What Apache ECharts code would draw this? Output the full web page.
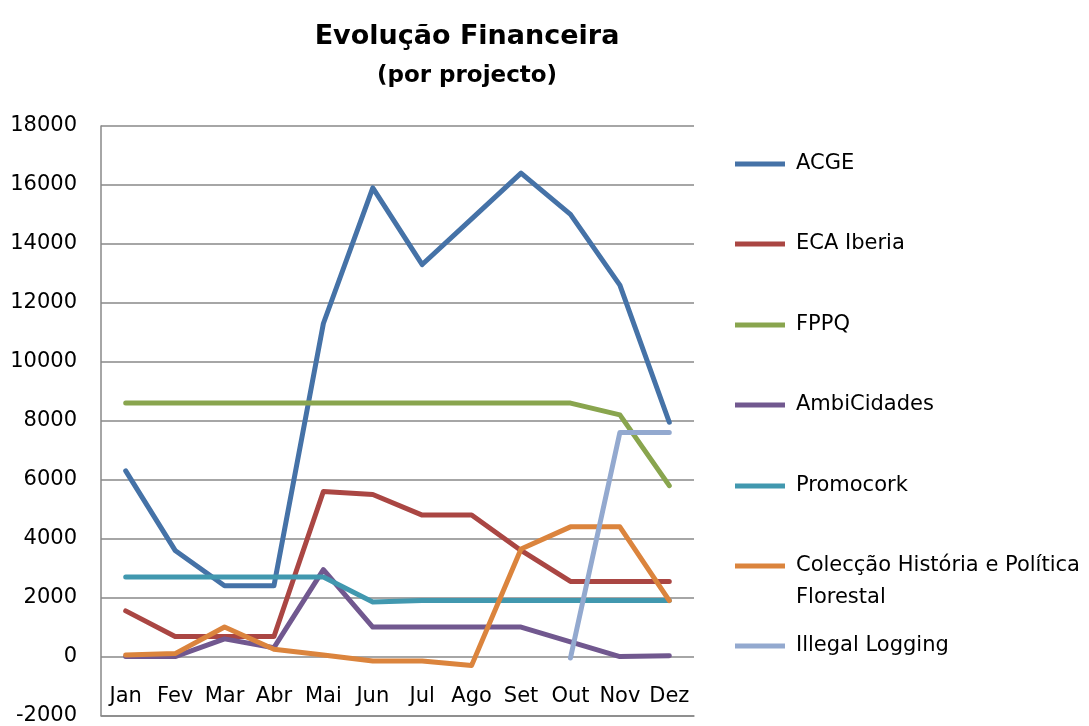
<!DOCTYPE html>
<html lang="pt">
  <head>
    <meta charset="UTF-8" />
    <title>Evolução Financeira</title>
    <script src="https://cdn.jsdelivr.net/npm/echarts@6/dist/echarts.min.js"></script>
    <style>
      html, body { margin: 0; padding: 0; background: #fff; }
      #main { width: 1089px; height: 726px; }
    </style>
  </head>
  <body>
    <div id="main"></div>
    <script>
      const months = ['Jan', 'Fev', 'Mar', 'Abr', 'Mai', 'Jun', 'Jul', 'Ago', 'Set', 'Out', 'Nov', 'Dez'];
      const yTicks = { min: -2000, max: 18000, step: 2000 };

      const acge = [6300, 3600, 2400, 2400, 11300, 15900, 13300, 14850, 16400, 15000, 12600, 7950];
      const ecaIberia = [1550, 680, 680, 680, 5600, 5500, 4800, 4800, 3600, 2550, 2550, 2550];
      const fppq = [8600, 8600, 8600, 8600, 8600, 8600, 8600, 8600, 8600, 8600, 8200, 5800];
      const ambiCidades = [0, 0, 600, 300, 2950, 1000, 1000, 1000, 1000, 500, 0, 30];
      const promocork = [2700, 2700, 2700, 2700, 2700, 1850, 1900, 1900, 1900, 1900, 1900, 1900];
      const coleccao = [50, 100, 1000, 250, 50, -150, -150, -300, 3650, 4400, 4400, 1900];
      const illegalLogging = [null, null, null, null, null, null, null, null, null, -50, 7600, 7600];

      const seriesList = [
        { name: 'ACGE', data: acge, color: '#4572A7' },
        { name: 'ECA Iberia', data: ecaIberia, color: '#AA4643' },
        { name: 'FPPQ', data: fppq, color: '#89A54E' },
        { name: 'AmbiCidades', data: ambiCidades, color: '#71588F' },
        { name: 'Promocork', data: promocork, color: '#4198AF' },
        { name: 'Colecção História e Política Florestal', data: coleccao, color: '#DB843D' },
        { name: 'Illegal Logging', data: illegalLogging, color: '#93A9CF' }
      ];

      // vertical centre of each legend entry (px)
      const legendCentres = [164, 244, 325, 405, 486, 566, 646];

      const font = 'DejaVu Sans';

      const legends = seriesList.map((s, i) => ({
        data: [s.name],
        left: 735,
        top: legendCentres[i] - (i === 5 ? 48 : 12),
        icon: 'rect',
        itemWidth: 50,
        itemHeight: 5,
        itemGap: 0,
        padding: 0,
        selectedMode: false,
        textStyle: {
          fontFamily: font,
          fontSize: 21,
          lineHeight: i === 5 ? 32 : 24,
          color: '#000',
          padding: [0, 0, 0, 6]
        },
        formatter: (name) =>
          name.startsWith('Colecção') ? ' \nColecção História e Política\nFlorestal' : name
      }));

      const option = {
        animation: false,
        backgroundColor: '#fff',
        title: [
          {
            text: 'Evolução Financeira',
            left: 462,
            top: 18,
            textAlign: 'center',
            textStyle: { fontFamily: font, fontSize: 27, fontWeight: 'bold', color: '#000' }
          },
          {
            text: '(por projecto)',
            left: 462,
            top: 60,
            textAlign: 'center',
            textStyle: { fontFamily: font, fontSize: 23, fontWeight: 'bold', color: '#000' }
          }
        ],
        legend: legends,
        grid: { left: 101, right: 395, top: 126, bottom: 10, containLabel: false },
        xAxis: {
          type: 'category',
          data: months,
          boundaryGap: true,
          axisLine: { onZero: false, lineStyle: { color: '#888', width: 1.5 } },
          axisTick: { show: false },
          axisLabel: {
            inside: true,
            interval: 0,
            margin: 8,
            color: '#000',
            fontFamily: font,
            fontSize: 21
          },
          splitLine: { show: false }
        },
        yAxis: {
          type: 'value',
          min: yTicks.min,
          max: yTicks.max,
          interval: yTicks.step,
          axisLine: { show: true, lineStyle: { color: '#888', width: 1.5 } },
          axisTick: { show: false },
          axisLabel: {
            margin: 24,
            color: '#000',
            fontFamily: font,
            fontSize: 21,
            formatter: (v) => String(v)
          },
          splitLine: { lineStyle: { color: '#888', width: 1.5 } }
        },
        series: seriesList.map((s) => ({
          name: s.name,
          type: 'line',
          data: s.data,
          color: s.color,
          showSymbol: false,
          symbol: 'none',
          connectNulls: false,
          lineStyle: { width: 5, color: s.color, cap: 'round', join: 'round' }
        }))
      };

      const chart = echarts.init(document.getElementById('main'));
      chart.setOption(option);
      window.onresize = function () {
        chart.resize();
      };
    </script>
  </body>
</html>
